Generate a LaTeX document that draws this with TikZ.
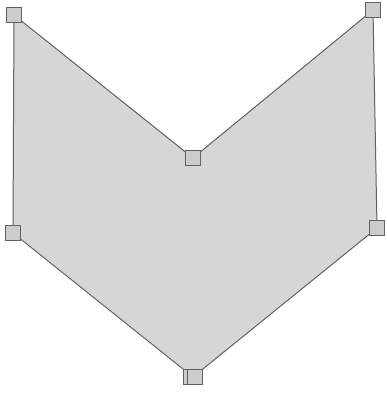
\documentclass[tikz,border=0pt]{standalone}
\begin{document}
\begin{tikzpicture}[x=1pt,y=-1pt,
  handle/.style={draw=black!62,fill=black!20,line width=1.2pt,minimum size=15pt,inner sep=0pt,outer sep=0pt},
  shapeedge/.style={draw=black!62,fill=black!16,line width=1pt,line join=miter}]
\useasboundingbox (0,0) rectangle (387,394);
\coordinate (a) at (14,15);
\coordinate (b) at (193,158);
\coordinate (c) at (373,10);
\coordinate (d) at (377,228);
\coordinate (e) at (193,377);
\coordinate (f) at (13,233);
\path[shapeedge] (a) -- (b) -- (c) -- (d) -- (e) -- (f) -- cycle;
\node[handle] (ha) at (a) {};
\node[handle] (hb) at (b) {};
\node[handle] (hc) at (c) {};
\node[handle] (hd) at (d) {};
\node[handle] (he) at (191,377) {};
\node[handle] (he2) at (195,377) {};
\node[handle] (hf) at (f) {};
\end{tikzpicture}
\end{document}
